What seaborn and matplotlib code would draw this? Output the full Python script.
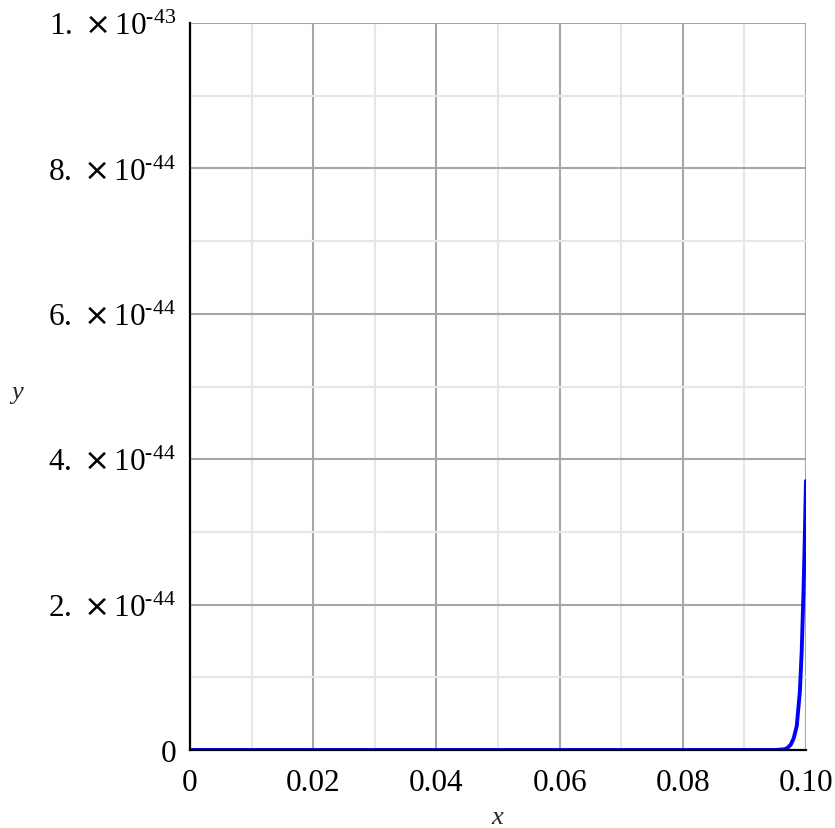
import matplotlib
matplotlib.use("Agg")
import matplotlib.pyplot as plt
import seaborn as sns
import pandas as pd
from matplotlib.ticker import MultipleLocator

# Data (y in units of 1e-44)
x_vals = [0.0, 0.02, 0.04, 0.06, 0.08, 0.09, 0.095, 0.0965, 0.097, 0.0975, 0.098,
          0.0985, 0.099, 0.0993, 0.0996, 0.0998, 0.1]
y_vals_e44 = [0.0, 0.0, 0.0, 0.0, 0.0, 0.0, 0.0, 0.01, 0.03, 0.07, 0.16,
              0.33, 0.8, 1.35, 2.2, 2.9, 3.7]
x_ticks = [0.0, 0.02, 0.04, 0.06, 0.08, 0.10]
x_tick_labels = ["0", "0.02", "0.04", "0.06", "0.08", "0.10"]
y_ticks_e44 = [0, 2, 4, 6, 8, 10]
y_tick_labels = ["0",
                 r"$2.\ \mathsf{\times}\,10^{\text{-}44}$", r"$4.\ \mathsf{\times}\,10^{\text{-}44}$",
                 r"$6.\ \mathsf{\times}\,10^{\text{-}44}$", r"$8.\ \mathsf{\times}\,10^{\text{-}44}$",
                 r"$1.\ \mathsf{\times}\,10^{\text{-}43}$"]

sns.set_style("white")
plt.rcParams['font.family'] = ['Liberation Serif', 'DejaVu Serif']
plt.rcParams['mathtext.fontset'] = 'custom'
plt.rcParams['mathtext.rm'] = 'Liberation Serif'
plt.rcParams['mathtext.it'] = 'Liberation Serif:italic'
plt.rcParams['mathtext.sf'] = 'DejaVu Sans'
plt.rcParams['mathtext.default'] = 'rm'

df = pd.DataFrame({"x": x_vals, "y": [v * 1e-44 for v in y_vals_e44]})

fig = plt.figure(figsize=(8.35, 8.29), dpi=100)
ax = fig.add_axes([190/835, 1 - 751/829, (806-190)/835, (751-24)/829])

sns.lineplot(data=df, x="x", y="y", ax=ax, color="#0000ff", linewidth=2.8, zorder=2)

ax.set_xlim(0, 0.1)
ax.set_ylim(0, 1e-43)
ax.set_xticks(x_ticks)
ax.set_xticklabels(x_tick_labels)
ax.set_yticks([v * 1e-44 for v in y_ticks_e44])
ax.set_yticklabels(y_tick_labels)
ax.xaxis.set_minor_locator(MultipleLocator(0.01))
ax.yaxis.set_minor_locator(MultipleLocator(1e-44))

ax.grid(which="minor", color="#e6e6e6", linewidth=1.5, zorder=0)
ax.grid(which="major", color="#a6a6a6", linewidth=1.5, zorder=0)
ax.set_axisbelow(True)

for s in ["top", "right"]:
    ax.spines[s].set_visible(False)
for s in ["left", "bottom"]:
    ax.spines[s].set_color("black")
    ax.spines[s].set_linewidth(1.6)
    ax.spines[s].set_zorder(3)

ax.tick_params(which="major", direction="out", length=6, width=1.2, color="#888888",
               labelsize=22.5, labelcolor="black", pad=4)
ax.tick_params(which="minor", direction="out", length=4, width=1.0, color="black")
ax.tick_params(axis="x", which="major", pad=7)

ax.set_xlabel("x", fontsize=19, style="italic")
ax.set_ylabel("y", fontsize=19, style="italic", rotation=0)
ax.xaxis.label.set_va("center")
ax.xaxis.label.set_ha("center")
ax.yaxis.label.set_va("center")
ax.yaxis.label.set_ha("center")
ax.xaxis.set_label_coords((497-190)/(806-190), -(818-751)/(751-24))
ax.yaxis.set_label_coords((17-190)/(806-190), (751-393)/(751-24))

fig.savefig("out.png", dpi=100)
